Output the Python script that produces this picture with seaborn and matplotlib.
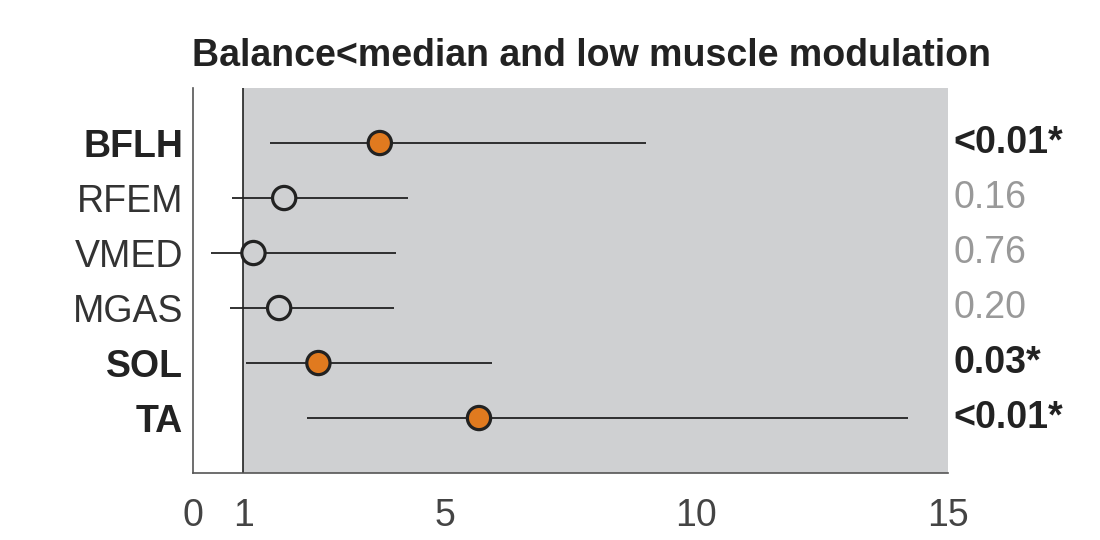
import numpy as np
import pandas as pd
import seaborn as sns
import matplotlib.pyplot as plt

# данные: мышцы, отношение шансов и доверительные интервалы
muscles = ['BFLH', 'RFEM', 'VMED', 'MGAS', 'SOL', 'TA']
estimate = [3.71, 1.81, 1.20, 1.71, 2.49, 5.68]
ci_low = [1.53, 0.78, 0.36, 0.74, 1.06, 2.27]
ci_high = [9.0, 4.26, 4.04, 4.0, 5.94, 14.2]
p_labels = ['<0.01*', '0.16', '0.76', '0.20', '0.03*', '<0.01*']
significant = [True, False, False, False, True, True]

df = pd.DataFrame({'muscle': muscles, 'est': estimate, 'lo': ci_low,
                   'hi': ci_high, 'p': p_labels, 'sig': significant})
df['row'] = np.arange(1, len(df) + 1)

sns.set_style('white')
plt.rcParams['font.family'] = ['Liberation Sans', 'DejaVu Sans']

fig = plt.figure(figsize=(11, 5.4), dpi=100)
ax = fig.add_axes([0.1755, 0.124, 0.6865, 0.713])

gray = '#cfd0d2'
orange = '#e07a1f'

ax.axvspan(1, 15, color=gray, zorder=0, lw=0)
ax.axvline(1, color='#222222', lw=1.2, zorder=1)

ax.hlines(df['row'], df['lo'], df['hi'], color='#222222', lw=1.3, zorder=2)
sns.scatterplot(data=df, x='est', y='row', hue='sig',
                palette={True: orange, False: gray}, s=280,
                edgecolor='#222222', linewidth=2.3, legend=False,
                zorder=3, ax=ax)

ax.set_xlim(0, 15)
ax.set_ylim(7, 0)
ax.set_xticks([0, 1, 5, 10, 15])
ax.set_xticklabels(['0', '1', '5', '10', '15'], fontsize=27, color='#444444')
ax.tick_params(axis='x', direction='in', length=6, color='#555555', pad=18)
ax.set_yticks(df['row'])
ax.set_yticklabels(df['muscle'], fontsize=27)
ax.tick_params(axis='y', length=0, pad=7)
for lab, s in zip(ax.get_yticklabels(), df['sig']):
    lab.set_fontweight('bold' if s else 'normal')
    lab.set_color('#222222' if s else '#333333')

for r, p, s in zip(df['row'], df['p'], df['sig']):
    ax.text(15.1, r, p, fontsize=27, va='center', ha='left',
            fontweight='bold' if s else 'normal',
            color='#222222' if s else '#999999')

ax.set_xlabel('')
ax.set_ylabel('')
ax.set_title('Balance<median and low muscle modulation', fontsize=27,
             fontweight='bold', color='#222222', pad=16, x=0.527)

for side in ['top', 'right']:
    ax.spines[side].set_visible(False)
for side in ['left', 'bottom']:
    ax.spines[side].set_color('#555555')
    ax.spines[side].set_linewidth(1.2)

fig.savefig('out.png', dpi=100)
